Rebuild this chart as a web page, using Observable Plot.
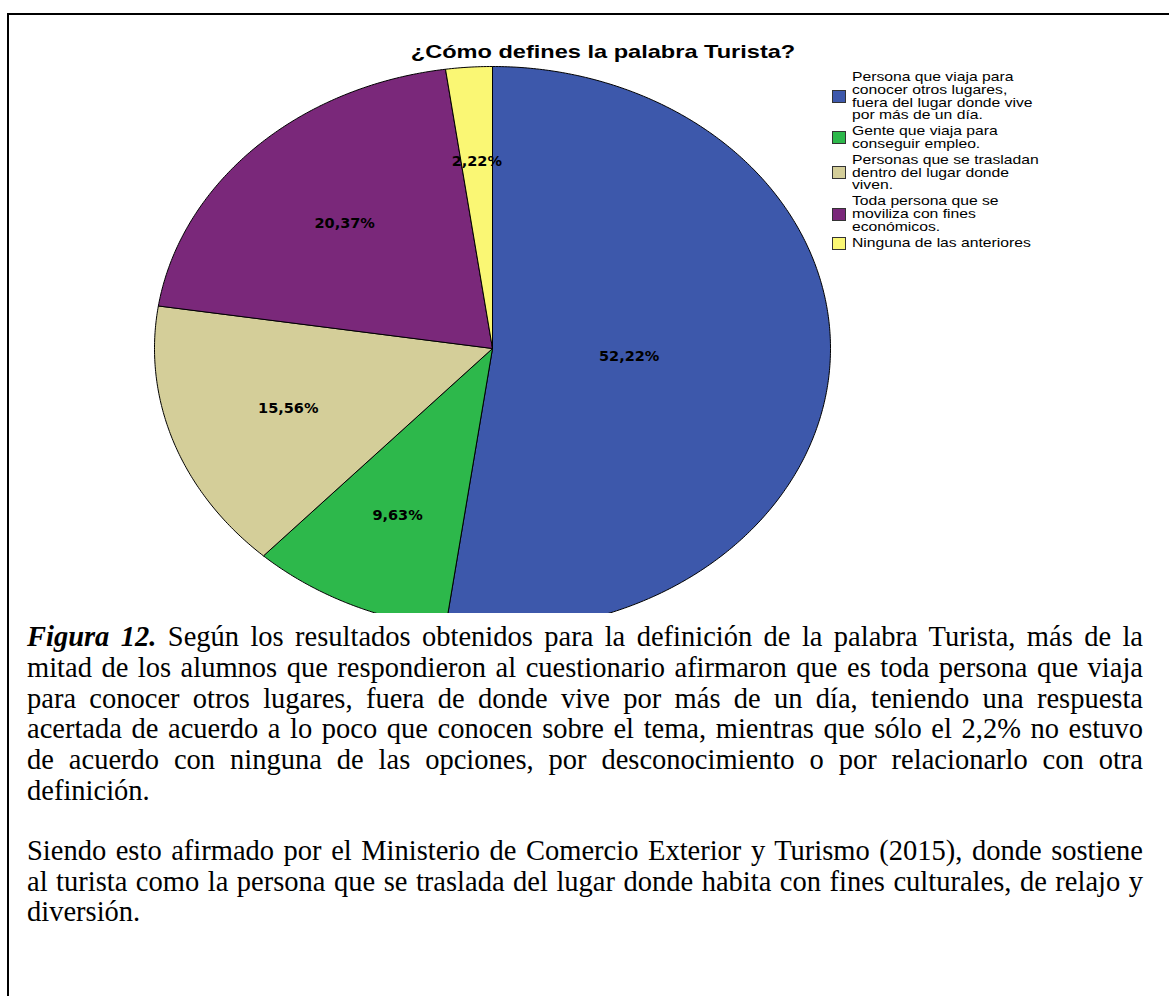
<!DOCTYPE html>
<html>
<head>
<meta charset="utf-8">
<script src="https://cdn.jsdelivr.net/npm/d3@7"></script>
<script src="https://cdn.jsdelivr.net/npm/@observablehq/plot@0.6"></script>
<style>
html,body{margin:0;padding:0;background:#fff;width:1169px;height:996px;overflow:hidden;position:relative}
#chart{position:absolute;left:0;top:0;width:1169px;height:613px;overflow:hidden}
#frame{position:absolute;left:7px;top:13px;width:1300px;height:1200px;border-top:2.5px solid #000;border-left:2.5px solid #000;z-index:5}
#title{position:absolute;left:0;width:1206px;top:42px;text-align:center;font-family:"Liberation Sans",Arial,sans-serif;font-weight:bold;font-size:19px;line-height:19px;color:#000}
#title span{display:inline-block;transform:scaleX(1.24)}
#legend{position:absolute;left:832px;top:71px;font-family:"Liberation Sans",Arial,sans-serif;font-size:13.2px;line-height:12.8px;color:#000}
.entry{display:flex;align-items:center;margin-bottom:3px}
.sw{width:12px;height:11px;border:1px solid #333;margin-right:6px;flex:none}
.lt{white-space:pre;transform:scaleX(1.19);transform-origin:left center}
#caption{position:absolute;left:27px;top:622px;width:1116px;font-family:"Liberation Serif","Times New Roman",serif;font-size:28.5px;line-height:30.8px;color:#000}
.ln{text-align:justify;text-align-last:justify;white-space:nowrap}
.ln.last{text-align:left;text-align-last:left}
.para2{margin-top:29px}
</style>
</head>
<body>
<div id="chart"></div>
<div id="frame"></div>
<div id="title"><span></span></div>
<div id="legend"></div>
<div id="caption"></div>
<script>
const title = "¿Cómo defines la palabra Turista?";
const categories = [
  "Persona que viaja para\nconocer otros lugares,\nfuera del lugar donde vive\npor más de un día.",
  "Gente que viaja para\nconseguir empleo.",
  "Personas que se trasladan\ndentro del lugar donde\nviven.",
  "Toda persona que se\nmoviliza con fines\neconómicos.",
  "Ninguna de las anteriores"
];
const percentages = [52.22, 9.63, 15.56, 20.37, 2.22];
const colors = ["#3D58AB", "#2DB84B", "#D4CE99", "#7A287A", "#FAF774"];
const captionPara1 = [
  "<b><i>Figura 12.</i></b> Según los resultados obtenidos para la definición de la palabra Turista, más de la",
  "mitad de los alumnos que respondieron al cuestionario afirmaron que es toda persona que viaja",
  "para conocer otros lugares, fuera de donde vive por más de un día, teniendo una respuesta",
  "acertada de acuerdo a lo poco que conocen sobre el tema, mientras que sólo el 2,2% no estuvo",
  "de acuerdo con ninguna de las opciones, por desconocimiento o por relacionarlo con otra",
  "definición."
];
const captionPara2 = [
  "Siendo esto afirmado por el Ministerio de Comercio Exterior y Turismo (2015), donde sostiene",
  "al turista como la persona que se traslada del lugar donde habita con fines culturales, de relajo y",
  "diversión."
];

// pie geometry in data space (unit circle), clockwise from 12 o'clock
const total = d3.sum(percentages);
let acc = 0;
const slices = categories.map((c, i) => {
  const a0 = acc / total * 2 * Math.PI;
  acc += percentages[i];
  const a1 = acc / total * 2 * Math.PI;
  return {c, v: percentages[i], a0, a1};
});
const pts = slices.flatMap(s => {
  const n = Math.max(2, Math.ceil((s.a1 - s.a0) / (Math.PI / 360)));
  const arr = [{c: s.c, x: 0, y: 0}];
  for (let k = 0; k <= n; k++) {
    const a = s.a0 + (s.a1 - s.a0) * k / n;
    arr.push({c: s.c, x: Math.sin(a), y: Math.cos(a)});
  }
  arr.push({c: s.c, x: 0, y: 0});
  return arr;
});
const labels = slices.map(s => {
  const h = (s.a1 - s.a0) / 2, m = s.a0 + h, r = 2 * Math.sin(h) / (3 * h);
  return {x: r * Math.sin(m), y: r * Math.cos(m), t: s.v.toFixed(2).replace(".", ",") + "%"};
});

const plot = Plot.plot({
  width: 1169,
  height: 613,
  margin: 0,
  style: {background: "transparent"},
  x: {domain: [-1, 1], range: [154, 830], axis: null},
  y: {domain: [-1, 1], range: [630, 66], axis: null},
  color: {domain: categories, range: colors},
  marks: [
    Plot.line(pts, {x: "x", y: "y", z: "c", fill: "c", stroke: "#000", strokeWidth: 1, strokeLinejoin: "miter"}),
    Plot.text(labels, {x: "x", y: "y", text: "t", fontFamily: "DejaVu Sans", fontWeight: "bold", fontSize: 14.5, fill: "#000"})
  ]
});
document.getElementById("chart").appendChild(plot);

document.querySelector("#title span").textContent = title;

const legend = d3.select("#legend");
categories.forEach((c, i) => {
  const e = legend.append("div").attr("class", "entry");
  e.append("div").attr("class", "sw").style("background", colors[i]);
  e.append("div").attr("class", "lt").text(c);
});

const cap = d3.select("#caption");
const p1 = cap.append("div");
captionPara1.forEach((l, i) => p1.append("div").attr("class", "ln" + (i === captionPara1.length - 1 ? " last" : "")).html(l));
const p2 = cap.append("div").attr("class", "para2");
captionPara2.forEach((l, i) => p2.append("div").attr("class", "ln" + (i === captionPara2.length - 1 ? " last" : "")).html(l));
</script>
</body>
</html>
